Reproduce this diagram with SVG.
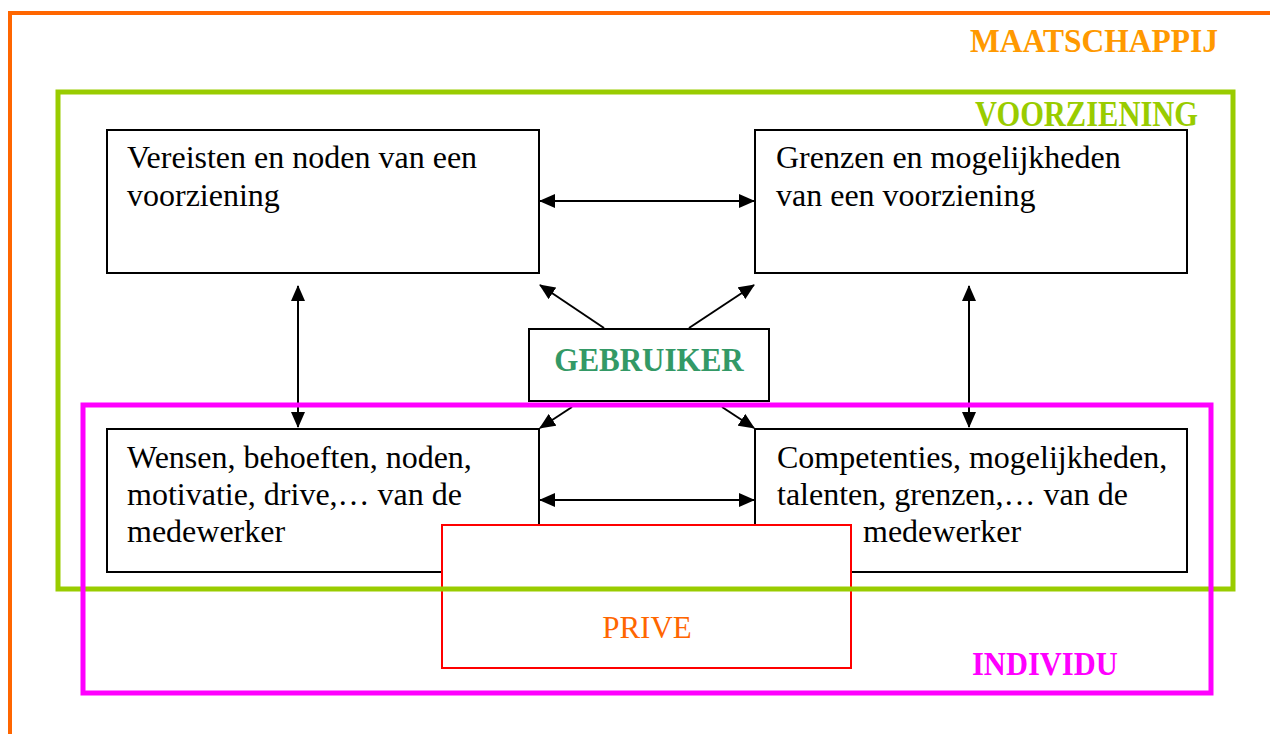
<svg xmlns="http://www.w3.org/2000/svg" width="1270" height="734" viewBox="0 0 1270 734">
<style>
.box{fill:#fff;stroke:#000;stroke-width:2}
.t{font-family:"Liberation Serif","Times New Roman",serif;font-size:32px;fill:#000}
.lbl{font-family:"Liberation Serif","Times New Roman",serif;font-weight:bold}
.con{stroke:#000;stroke-width:2;fill:none;marker-start:url(#ah);marker-end:url(#ah)}
.one{stroke:#000;stroke-width:2;fill:none;marker-end:url(#ah)}
</style>
<defs>
<marker id="ah" viewBox="0 0 16 14" refX="15" refY="7" markerWidth="16" markerHeight="14" markerUnits="userSpaceOnUse" orient="auto-start-reverse">
<path d="M0,0 L16,7 L0,14 z" fill="#000"/>
</marker>
</defs>
<rect width="1270" height="734" fill="#fff"/>
<g id="maatschappij">
<path d="M10,734 L10,13 L1270,13" fill="none" stroke="#FF6600" stroke-width="4"/>
<text class="lbl" transform="translate(970,52) scale(1,1.15)" font-size="29" fill="#FF9900" textLength="248" lengthAdjust="spacingAndGlyphs">MAATSCHAPPIJ</text>
</g>
<g id="box-vereisten">
<rect class="box" x="107" y="130" width="432" height="143"/>
<text class="t" x="127" y="168">Vereisten en noden van een</text>
<text class="t" x="127" y="206">voorziening</text>
</g>
<g id="box-grenzen">
<rect class="box" x="755" y="130" width="432" height="143"/>
<text class="t" x="776" y="168">Grenzen en mogelijkheden</text>
<text class="t" x="776" y="206">van een voorziening</text>
</g>
<g id="box-wensen">
<rect class="box" x="107" y="429" width="432" height="143"/>
<text class="t" x="127" y="468">Wensen, behoeften, noden,</text>
<text class="t" x="127" y="505">motivatie, drive,… van de</text>
<text class="t" x="127" y="542">medewerker</text>
</g>
<g id="box-competenties">
<rect class="box" x="755" y="429" width="432" height="143"/>
<text class="t" x="777" y="468">Competenties, mogelijkheden,</text>
<text class="t" x="777" y="505">talenten, grenzen,… van de</text>
<text class="t" x="863" y="542">medewerker</text>
</g>
<g id="gebruiker">
<rect class="box" x="529" y="329" width="240" height="72"/>
<text class="lbl" transform="translate(649,371) scale(1,1.08)" font-size="31" fill="#339966" text-anchor="middle">GEBRUIKER</text>
</g>
<g id="connectors">
<line class="con" x1="540" y1="201" x2="754" y2="201"/>
<line class="con" x1="540" y1="500" x2="754" y2="500"/>
<line class="con" x1="298" y1="286" x2="298" y2="427"/>
<line class="con" x1="969" y1="286" x2="969" y2="427"/>
<line class="one" x1="604" y1="328" x2="540" y2="285"/>
<line class="one" x1="689" y1="328" x2="754" y2="285"/>
<line class="one" x1="572" y1="407" x2="540" y2="428"/>
<line class="one" x1="722" y1="407" x2="754" y2="428"/>
</g>
<g id="prive">
<rect x="442" y="525" width="409" height="143" fill="#fff" stroke="#FF0000" stroke-width="2"/>
<text x="647" y="638" font-family="Liberation Serif, Times New Roman, serif" font-size="31" fill="#FF6600" text-anchor="middle">PRIVE</text>
</g>
<g id="voorziening">
<rect x="58" y="92" width="1175" height="497" fill="none" stroke="#99CC00" stroke-width="5"/>
<text class="lbl" transform="translate(975,126) scale(1,1.15)" font-size="30.5" fill="#99CC00">VOORZIENING</text>
</g>
<g id="individu">
<rect x="83" y="405" width="1128" height="288" fill="none" stroke="#FF00FF" stroke-width="5"/>
<text class="lbl" transform="translate(972,675) scale(1,1.1)" font-size="30.5" fill="#FF00FF">INDIVIDU</text>
</g>
</svg>
